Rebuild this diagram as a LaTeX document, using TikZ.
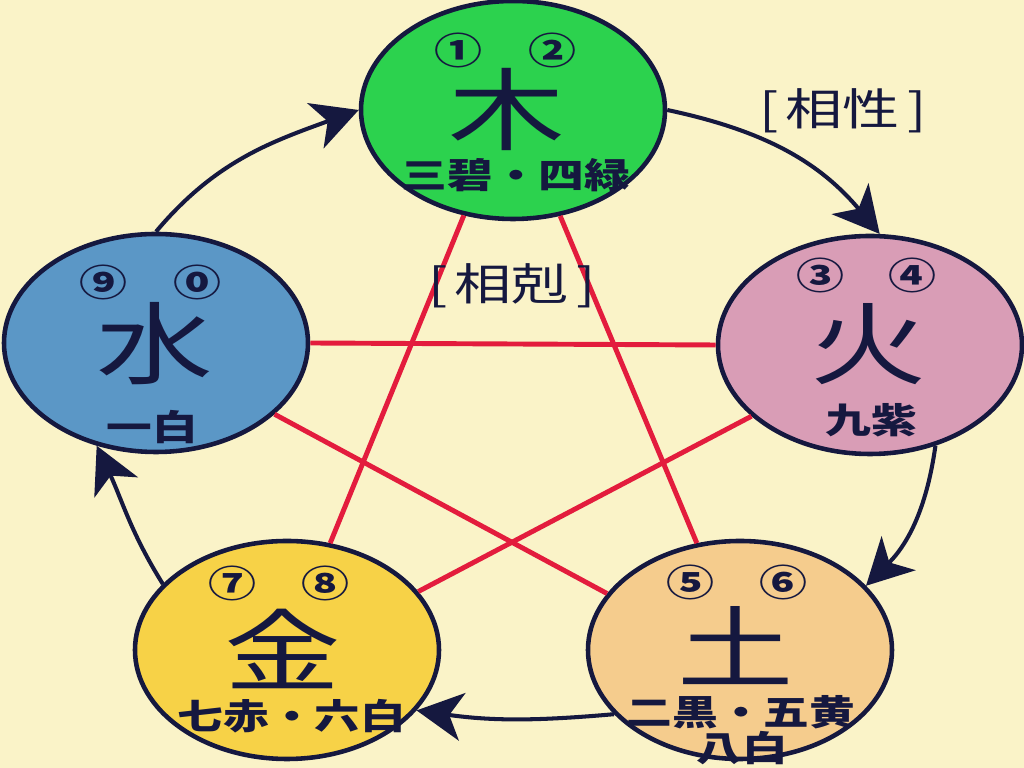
\documentclass[tikz,border=0pt]{standalone}
\usepackage{fontspec}
\newfontfamily\jp[FakeStretch=1.3]{Noto Sans CJK JP}
\usetikzlibrary{shapes.geometric,arrows.meta}
\definecolor{cream}{HTML}{FAF3C8}
\definecolor{ink}{HTML}{15183F}
\definecolor{kered}{HTML}{E31C3D}
\definecolor{mugreen}{HTML}{2CD24E}
\definecolor{huopink}{HTML}{D99DB6}
\definecolor{tusand}{HTML}{F5CC8D}
\definecolor{jinyellow}{HTML}{F7D247}
\definecolor{shuiblue}{HTML}{5B97C6}
\tikzset{
	elem/.style={ellipse, draw=ink, line width=1.3pt, minimum width=3.04cm, minimum height=2.18cm, inner sep=0pt},
	num/.style={text=ink, font=\jp\bfseries\fontsize{10.5}{11}\selectfont, inner sep=0pt},
	big/.style={text=ink, font=\jp\fontsize{25.5}{26}\selectfont, inner sep=0pt},
	small/.style={text=ink, font=\jp\bfseries\fontsize{10}{10}\selectfont, inner sep=0pt},
	title/.style={text=ink, font=\jp\fontsize{12.5}{13}\selectfont, inner sep=0pt},
	ke/.style={draw=kered, line width=1.4pt},
	sheng/.style={draw=ink, line width=1.15pt, -{Stealth[length=4.6mm,width=4.8mm,inset=1.3mm]}}
}

\begin{document}
\begin{tikzpicture}
		%%%%% START %%%%%
		
		\useasboundingbox (0, 0) rectangle (10.24, 7.68);
		\fill[cream] (0, 0) rectangle (10.24, 7.68);
		
		\node[elem, fill=mugreen] (mu) at (5.13, 6.58) {};
		\node[elem, fill=huopink] (huo) at (8.70, 4.23) {};
		\node[elem, fill=tusand] (tu) at (7.40, 1.18) {};
		\node[elem, fill=jinyellow] (jin) at (2.87, 1.18) {};
		\node[elem, fill=shuiblue] (shui) at (1.56, 4.25) {};
		
		% xiangke
		\draw[ke] (mu.245) -- (jin.68);
		\draw[ke] (mu.294) -- (tu.112);
		\draw[ke] (shui.east) -- (huo.west);
		\draw[ke] (shui.-31) -- (tu.157);
		\draw[ke] (huo.211) -- (jin.24);
		
		% xiangsheng
		\draw[sheng] (mu.east) to[out=-12, in=130] (huo.85);
		\draw[sheng] (huo.-57) to[out=-98, in=45] (tu.27);
		\draw[sheng] (tu.207) to[out=185, in=-8] (jin.-25);
		\draw[sheng] (jin.152) to[out=122, in=-65] (shui.-120);
		\draw[sheng] (shui.north) to[out=50, in=200] (mu.west);
		
		\node[num] (mu1) at (4.58, 7.18) {①};
		\node[num] (mu2) at (5.52, 7.18) {②};
		\node[big] (muc) at (5.07, 6.58) {木};
		\node[small] (mut) at (5.16, 5.93) {三碧・四緑};
		
		\node[num] (huo1) at (8.20, 4.93) {③};
		\node[num] (huo2) at (9.12, 4.93) {④};
		\node[big] (huoc) at (8.69, 4.24) {火};
		\node[small] (huot) at (8.71, 3.48) {九紫};
		
		\node[num] (tu1) at (6.90, 1.86) {⑤};
		\node[num] (tu2) at (7.83, 1.86) {⑥};
		\node[big] (tuc) at (7.36, 1.22) {土};
		\node[small] (tut) at (7.41, 0.56) {二黒・五黄};
		\node[small] (tut2) at (7.42, 0.20) {八白};
		
		\node[num] (jin1) at (2.32, 1.85) {⑦};
		\node[num] (jin2) at (3.25, 1.85) {⑧};
		\node[big] (jinc) at (2.83, 1.19) {金};
		\node[small] (jint) at (2.92, 0.52) {七赤・六白};
		
		\node[num] (shui1) at (1.03, 4.86) {⑨};
		\node[num] (shui2) at (1.97, 4.86) {⓪};
		\node[big] (shuic) at (1.55, 4.24) {水};
		\node[small] (shuit) at (1.52, 3.41) {一白};
		
		\node[title] (sheng) at (8.43, 6.57) {[\,相性\,]};
		\node[title] (ke) at (5.12, 4.82) {[\,相剋\,]};
		
		%%%%% END %%%%%
\end{tikzpicture}
\end{document}
